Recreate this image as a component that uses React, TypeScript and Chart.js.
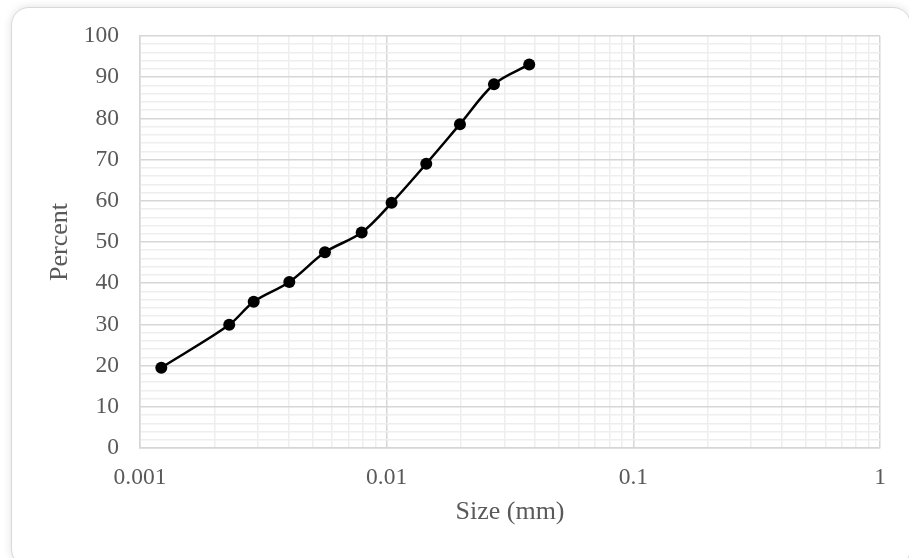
import React, { useEffect, useRef } from "react";
import { Chart, registerables } from "chart.js";

Chart.register(...registerables);

// Grain size (mm) vs percent finer
const sizesMm = [0.00122, 0.0023, 0.00289, 0.00403, 0.00562, 0.00792, 0.01047, 0.01447, 0.01982, 0.02723, 0.03784];
const percentFiner = [19.5, 29.9, 35.5, 40.3, 47.5, 52.3, 59.5, 69.0, 78.6, 88.3, 93.1];

const xDecades = [0.001, 0.01, 0.1, 1];
const xDecadeLabels = ["0.001", "0.01", "0.1", "1"];
const xMinorMultipliers = [2, 3, 4, 5, 6, 7, 8, 9];

const yMin = 0;
const yMax = 100;
const yMinorStep = 2;
const yMajorStep = 10;

const xTitle = "Size (mm)";
const yTitle = "Percent";

const FONT = "'Liberation Serif', 'Times New Roman', serif";
const TEXT = "#595959";
const MAJOR = "#d6d6d6";
const MINOR = "#eeeeee";

export default function App() {
  const ref = useRef<HTMLCanvasElement | null>(null);

  useEffect(() => {
    document.body.style.margin = "0";
    const canvas = ref.current;
    if (!canvas) return;

    const xTicks: { value: number; major: boolean; label: string }[] = [];
    xDecades.forEach((d, i) => {
      xTicks.push({ value: d, major: true, label: xDecadeLabels[i] });
      if (i < xDecades.length - 1) {
        xMinorMultipliers.forEach((m) => xTicks.push({ value: d * m, major: false, label: "" }));
      }
    });

    const chart = new Chart(canvas, {
      type: "line",
      data: {
        datasets: [
          {
            data: sizesMm.map((x, i) => ({ x, y: percentFiner[i] })),
            borderColor: "#000000",
            backgroundColor: "#000000",
            borderWidth: 2.5,
            pointRadius: 6,
            pointHoverRadius: 6,
            pointBackgroundColor: "#000000",
            pointBorderColor: "#000000",
            pointBorderWidth: 0,
            tension: 0.33,
            fill: false,
          },
        ],
      },
      options: {
        animation: false,
        responsive: false,
        maintainAspectRatio: false,
        layout: { padding: { left: 45, right: 29, top: 36, bottom: 30 } },
        plugins: { legend: { display: false }, tooltip: { enabled: false } },
        scales: {
          x: {
            type: "logarithmic",
            min: xDecades[0],
            max: xDecades[xDecades.length - 1],
            afterBuildTicks: (scale: any) => {
              scale.ticks = xTicks.map((t) => ({ value: t.value, major: t.major }));
            },
            afterFit: (scale: any) => {
              scale.height = 558 - 448 - 30;
            },
            ticks: {
              autoSkip: false,
              maxRotation: 0,
              padding: 16,
              color: TEXT,
              font: { family: FONT, size: 23.5 },
              callback: (_v: any, index: number) => (xTicks[index] ? xTicks[index].label : ""),
            },
            grid: {
              drawTicks: false,
              color: (ctx: any) => (ctx.tick && ctx.tick.major ? MAJOR : MINOR),
              lineWidth: 1.5,
            },
            border: { color: MAJOR, width: 1.5 },
            title: {
              display: true,
              text: xTitle,
              color: TEXT,
              font: { family: FONT, size: 26 },
              padding: { top: 0, bottom: 0 },
            },
          },
          y: {
            type: "linear",
            min: yMin,
            max: yMax,
            afterFit: (scale: any) => {
              scale.width = 140 - 45;
            },
            ticks: {
              stepSize: yMinorStep,
              autoSkip: false,
              padding: 21,
              color: TEXT,
              font: { family: FONT, size: 23.5 },
              callback: (v: any) => (Number(v) % yMajorStep === 0 ? String(v) : ""),
            },
            grid: {
              drawTicks: false,
              color: (ctx: any) => (ctx.tick && ctx.tick.value % yMajorStep === 0 ? MAJOR : MINOR),
              lineWidth: 1.5,
            },
            border: { color: MAJOR, width: 1.5 },
            title: {
              display: true,
              text: yTitle,
              color: TEXT,
              font: { family: FONT, size: 26 },
              padding: { top: 0, bottom: 0 },
            },
          },
        },
      },
    } as any);

    return () => chart.destroy();
  }, []);

  return (
    <div style={{ position: "absolute", left: 0, top: 0, width: 909, height: 558, background: "#ffffff", overflow: "hidden" }}>
      <div
        style={{
          position: "absolute",
          left: 11,
          top: 7,
          width: 900,
          height: 560,
          border: "1px solid #d9d9d9",
          borderRadius: 18,
          boxShadow: "0 0 8px rgba(0,0,0,0.12)",
          background: "#ffffff",
          boxSizing: "border-box",
        }}
      />
      <canvas ref={ref} width={909} height={558} style={{ position: "absolute", left: 0, top: 0, width: 909, height: 558 }} />
    </div>
  );
}
